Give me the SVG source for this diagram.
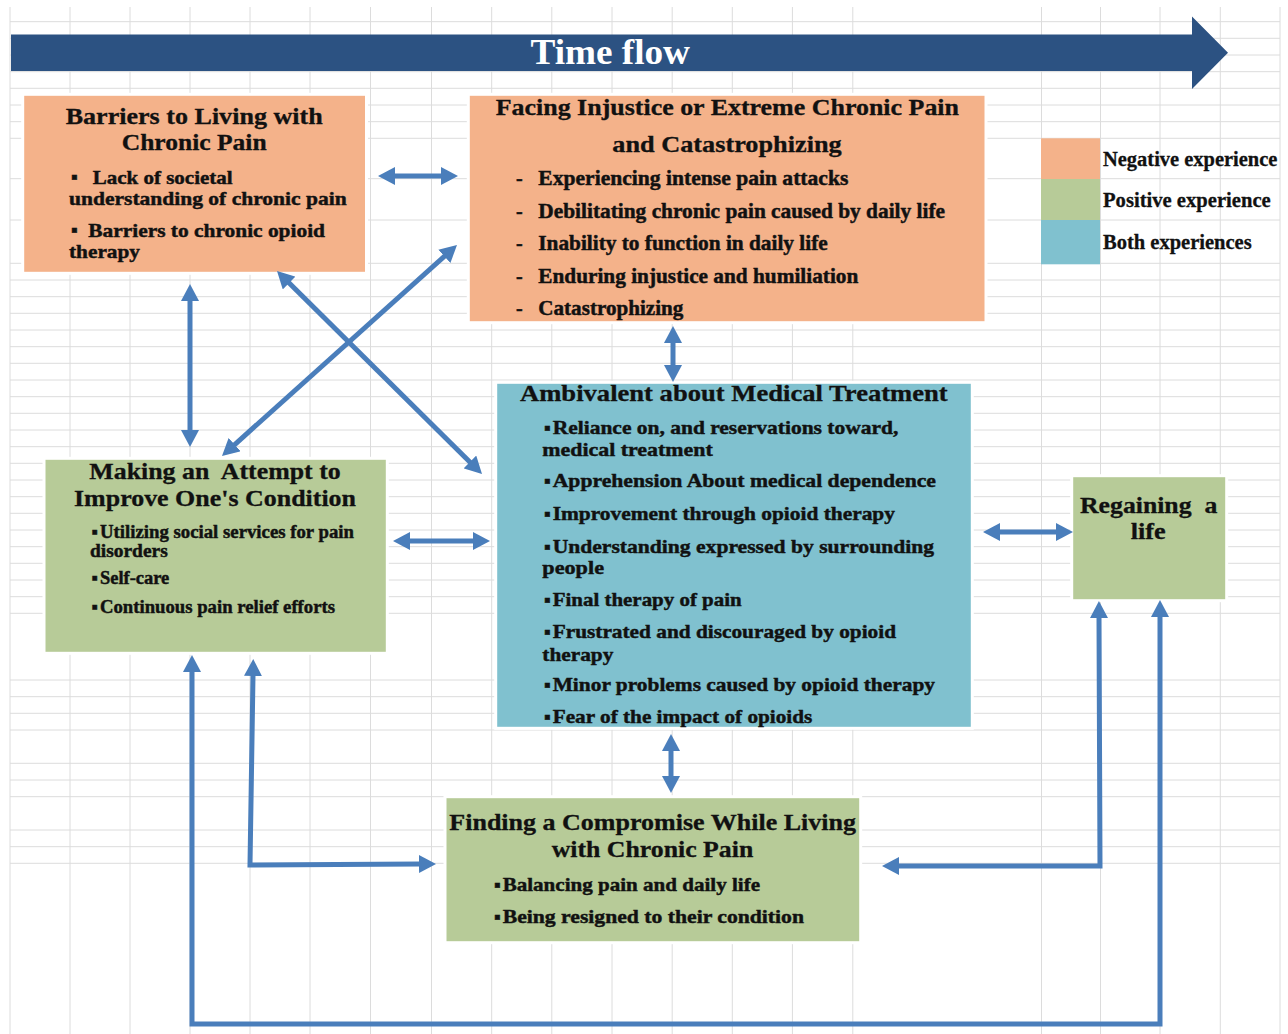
<svg xmlns="http://www.w3.org/2000/svg" width="1288" height="1034" viewBox="0 0 1288 1034">
<style>
.grid{stroke:#dcdcdc;stroke-width:1;fill:none}
.neg{fill:#f4b28a;stroke:#ffffff;stroke-width:3}
.pos{fill:#b7cb98;stroke:#ffffff;stroke-width:3}
.both{fill:#80c1cf;stroke:#ffffff;stroke-width:3}
.h{font-family:"Liberation Serif","Times New Roman",serif;font-weight:bold;font-size:23px;fill:#111111;stroke:#111111;stroke-width:0.3}
.i{font-family:"Liberation Serif","Times New Roman",serif;font-weight:bold;font-size:20px;fill:#111111;stroke:#111111;stroke-width:0.45}
.t{font-size:19px}
.s{font-size:18px}
.m{font-size:19px}
.lg{font-family:"Liberation Serif","Times New Roman",serif;font-weight:bold;font-size:20px;fill:#111111;stroke:#111111;stroke-width:0.3}
.conn path{stroke:#4a7ebb;stroke-width:5;fill:none;stroke-linejoin:miter;marker-start:url(#ah);marker-end:url(#ah)}
</style>
<defs>
<marker id="ah" markerUnits="userSpaceOnUse" markerWidth="17" markerHeight="18" viewBox="0 0 17 18" refX="1" refY="9" orient="auto-start-reverse">
<path d="M0,0 L17,9 L0,18 Z" fill="#4a7ebb"/>
</marker>
</defs>
<rect x="0" y="0" width="1288" height="1034" fill="#ffffff"/>
<g id="grid">
<path class="grid" d="M10,7V1034 M70,7V1034 M130,7V1034 M190,7V1034 M250,7V1034 M310,7V1034 M370.5,7V1034 M431.5,7V1034 M491.7,7V1034 M551.8,7V1034 M612,7V1034 M672.2,7V1034 M732.3,7V1034 M792.4,7V1034 M852.8,7V1034 M1041.5,7V1034 M1100.5,7V1034 M1160,7V1034 M1220.3,7V1034 M1280,7V1034"/>
<path class="grid" d="M10,21.7H1280 M10,38.3H1280 M10,55H1280 M10,71.7H1280 M10,88.3H1280 M10,105H1280 M10,121.7H1280 M10,138.3H1280 M10,178.7H1280 M10,220H1280 M10,263.3H1280 M10,280H1280 M10,296.7H1280 M10,313.3H1280 M10,330H1280 M10,346.7H1280 M10,363.3H1280 M10,380H1280 M10,396.7H1280 M10,413.3H1280 M10,430H1280 M10,446.7H1280 M10,463.3H1280 M10,480H1280 M10,496.7H1280 M10,513.3H1280 M10,530H1280 M10,546.7H1280 M10,563.3H1280 M10,580H1280 M10,596.7H1280 M10,613.3H1280 M10,680H1280 M10,696.7H1280 M10,713.3H1280 M10,730H1280 M10,763.3H1280 M10,780H1280 M10,796.7H1280 M10,830H1280 M10,846.7H1280 M10,863.3H1280"/>
</g>
<g id="timeflow">
<polygon points="11,34.5 1192,34.5 1192,16.5 1228,52.7 1192,89 1192,71 11,71" fill="#2c5282"/>
<text x="530.5" y="63.5" textLength="159.5" lengthAdjust="spacingAndGlyphs" font-family="Liberation Serif, Times New Roman, serif" font-weight="bold" font-size="35" fill="#ffffff">Time flow</text>
</g>
<g id="legend">
<rect x="1041" y="138.3" width="59" height="40.7" fill="#f4b28a"/>
<rect x="1041" y="179" width="59" height="41" fill="#b7cb98"/>
<rect x="1041" y="220" width="59" height="44.3" fill="#80c1cf"/>
<text class="lg" x="1103" y="165.7" textLength="174.4" lengthAdjust="spacingAndGlyphs">Negative experience</text>
<text class="lg" x="1103" y="206.7" textLength="167.7" lengthAdjust="spacingAndGlyphs">Positive experience</text>
<text class="lg" x="1103" y="249.3" textLength="148.7" lengthAdjust="spacingAndGlyphs">Both experiences</text>
</g>
<g id="barriers">
<rect class="neg" x="22.7" y="94.3" width="343.8" height="179"/>
<text class="h" x="65.7" y="124" textLength="257" lengthAdjust="spacingAndGlyphs">Barriers to Living with</text>
<text class="h" x="121.7" y="150" textLength="145" lengthAdjust="spacingAndGlyphs">Chronic Pain</text>
<text class="i t" x="71" y="183">▪</text>
<text class="i t" x="92.7" y="184" textLength="140" lengthAdjust="spacingAndGlyphs">Lack of societal</text>
<text class="i t" x="69" y="205" textLength="277.7" lengthAdjust="spacingAndGlyphs">understanding of chronic pain</text>
<text class="i t" x="71" y="236">▪</text>
<text class="i t" x="88.3" y="237" textLength="236.7" lengthAdjust="spacingAndGlyphs">Barriers to chronic opioid</text>
<text class="i t" x="69" y="258" textLength="71" lengthAdjust="spacingAndGlyphs">therapy</text>
</g>
<g id="injustice">
<rect class="neg" x="468.3" y="94.3" width="517.7" height="228.4"/>
<text class="h" x="495.7" y="115" textLength="463.3" lengthAdjust="spacingAndGlyphs" font-size="24">Facing Injustice or Extreme Chronic Pain</text>
<text class="h" x="612.3" y="151.7" textLength="229.4" lengthAdjust="spacingAndGlyphs" font-size="24">and Catastrophizing</text>
<text class="i" x="516" y="185">-</text>
<text class="i" x="538.3" y="185" textLength="310" lengthAdjust="spacingAndGlyphs">Experiencing intense pain attacks</text>
<text class="i" x="516" y="218">-</text>
<text class="i" x="538.3" y="218" textLength="406.7" lengthAdjust="spacingAndGlyphs">Debilitating chronic pain caused by daily life</text>
<text class="i" x="516" y="250">-</text>
<text class="i" x="538.3" y="250" textLength="289.4" lengthAdjust="spacingAndGlyphs">Inability to function in daily life</text>
<text class="i" x="516" y="282.7">-</text>
<text class="i" x="538.3" y="282.7" textLength="320" lengthAdjust="spacingAndGlyphs">Enduring injustice and humiliation</text>
<text class="i" x="516" y="315">-</text>
<text class="i" x="538.3" y="315" textLength="145" lengthAdjust="spacingAndGlyphs">Catastrophizing</text>
</g>
<g id="attempt">
<rect class="pos" x="44" y="458.3" width="343.3" height="195"/>
<text class="h" x="89.3" y="479.3" textLength="251.4" lengthAdjust="spacingAndGlyphs" xml:space="preserve">Making an  Attempt to</text>
<text class="h" x="74" y="506" textLength="282" lengthAdjust="spacingAndGlyphs">Improve One's Condition</text>
<text class="i s" x="91.5" y="538.3">▪</text>
<text class="i s" x="100" y="538.3" textLength="254" lengthAdjust="spacingAndGlyphs">Utilizing social services for pain</text>
<text class="i s" x="90" y="557.3" textLength="77.7" lengthAdjust="spacingAndGlyphs">disorders</text>
<text class="i s" x="91.5" y="584">▪</text>
<text class="i s" x="100" y="584" textLength="69.3" lengthAdjust="spacingAndGlyphs">Self-care</text>
<text class="i s" x="91.5" y="612.7">▪</text>
<text class="i s" x="100" y="612.7" textLength="235" lengthAdjust="spacingAndGlyphs">Continuous pain relief efforts</text>
</g>
<g id="ambivalent">
<rect class="both" x="495.7" y="382.3" width="476.6" height="346"/>
<text class="h" x="520" y="400.7" textLength="427.7" lengthAdjust="spacingAndGlyphs">Ambivalent about Medical Treatment</text>
<text class="i m" x="544" y="434">▪</text>
<text class="i m" x="552.7" y="434" textLength="345.6" lengthAdjust="spacingAndGlyphs">Reliance on, and reservations toward,</text>
<text class="i m" x="542.3" y="456" textLength="170.4" lengthAdjust="spacingAndGlyphs">medical treatment</text>
<text class="i m" x="544" y="487.3">▪</text>
<text class="i m" x="552.7" y="487.3" textLength="383.3" lengthAdjust="spacingAndGlyphs">Apprehension About medical dependence</text>
<text class="i m" x="544" y="520">▪</text>
<text class="i m" x="552.7" y="520" textLength="342.3" lengthAdjust="spacingAndGlyphs">Improvement through opioid therapy</text>
<text class="i m" x="544" y="552.7">▪</text>
<text class="i m" x="552.7" y="552.7" textLength="381.3" lengthAdjust="spacingAndGlyphs">Understanding expressed by surrounding</text>
<text class="i m" x="542.3" y="574" textLength="61.7" lengthAdjust="spacingAndGlyphs">people</text>
<text class="i m" x="544" y="606">▪</text>
<text class="i m" x="552.7" y="606" textLength="189" lengthAdjust="spacingAndGlyphs">Final therapy of pain</text>
<text class="i m" x="544" y="638.3">▪</text>
<text class="i m" x="552.7" y="638.3" textLength="343.3" lengthAdjust="spacingAndGlyphs">Frustrated and discouraged by opioid</text>
<text class="i m" x="542.3" y="660.7" textLength="71" lengthAdjust="spacingAndGlyphs">therapy</text>
<text class="i m" x="544" y="691">▪</text>
<text class="i m" x="552.7" y="691" textLength="382.3" lengthAdjust="spacingAndGlyphs">Minor problems caused by opioid therapy</text>
<text class="i m" x="544" y="723.3">▪</text>
<text class="i m" x="552.7" y="723.3" textLength="259.6" lengthAdjust="spacingAndGlyphs">Fear of the impact of opioids</text>
</g>
<g id="regaining">
<rect class="pos" x="1071.7" y="475.7" width="155" height="125"/>
<text class="h" x="1080" y="513.3" textLength="137.3" lengthAdjust="spacingAndGlyphs" xml:space="preserve">Regaining  a</text>
<text class="h" x="1130.7" y="539.3" textLength="35" lengthAdjust="spacingAndGlyphs">life</text>
</g>
<g id="compromise">
<rect class="pos" x="445" y="796.7" width="415.7" height="146"/>
<text class="h" x="449.3" y="830" textLength="406.7" lengthAdjust="spacingAndGlyphs">Finding a Compromise While Living</text>
<text class="h" x="551.7" y="856.7" textLength="201.6" lengthAdjust="spacingAndGlyphs">with Chronic Pain</text>
<text class="i m" x="494" y="890.7">▪</text>
<text class="i m" x="502.7" y="890.7" textLength="257.3" lengthAdjust="spacingAndGlyphs">Balancing pain and daily life</text>
<text class="i m" x="494" y="923.3">▪</text>
<text class="i m" x="502.7" y="923.3" textLength="301.3" lengthAdjust="spacingAndGlyphs">Being resigned to their condition</text>
</g>
<g id="connectors" class="conn">
<path d="M394,176 L442,176"/>
<path d="M190,300 L190,431"/>
<path d="M233.9,445.3 L445.1,255.7"/>
<path d="M288.4,282.3 L470.6,462.7"/>
<path d="M673,342 L673,366"/>
<path d="M409,541 L474,541"/>
<path d="M999,532 L1057,532"/>
<path d="M671,750 L671,777"/>
<path d="M253,675 L250,865 L420,864"/>
<path d="M898,866 L1100,866 L1099,617"/>
<path d="M192,671 L192,1024 L1160,1024 L1160,616"/>
</g>
</svg>
